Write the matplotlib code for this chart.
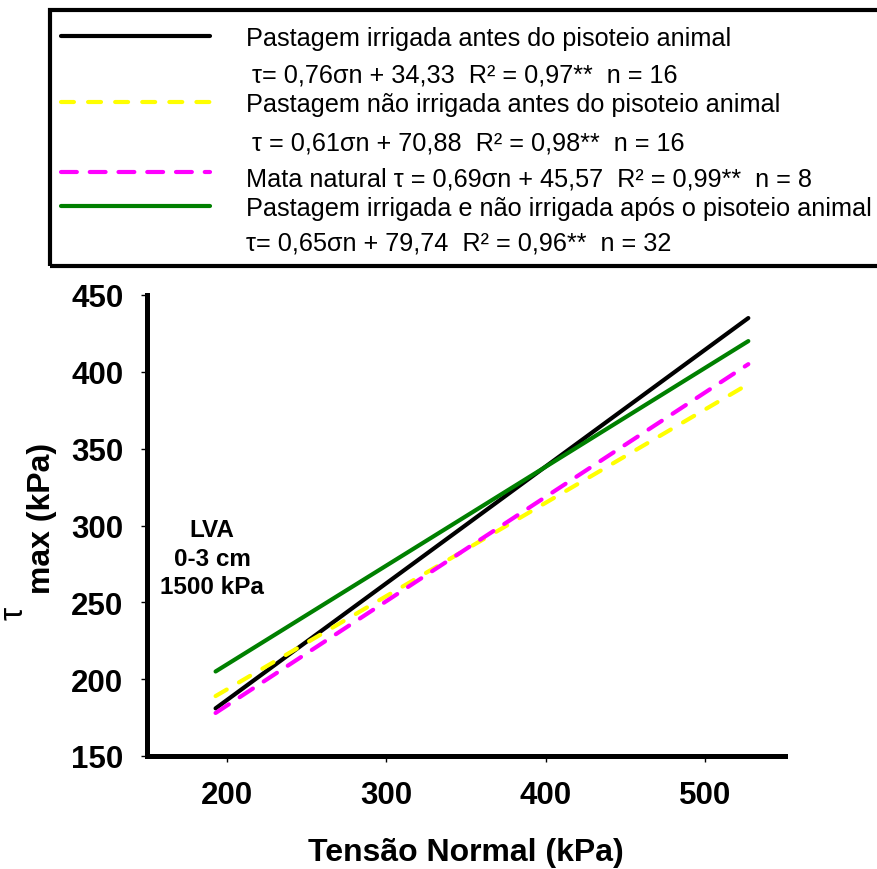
import matplotlib
matplotlib.use('Agg')
import matplotlib.pyplot as plt
from matplotlib.lines import Line2D
from matplotlib.patches import Rectangle

plt.rcParams['font.family'] = ['Liberation Sans', 'DejaVu Sans']

W, H = 878, 870

# regression lines, end points
tensao = [193, 527]
pastagem_irrigada = [181, 435]
pastagem_nao_irrigada = [189, 392]
mata_natural = [178, 405]
apos_pisoteio = [205, 420]

x_ticks = [200, 300, 400, 500]
y_ticks = [150, 200, 250, 300, 350, 400, 450]

legend_rows = [
    'Pastagem irrigada antes do pisoteio animal',
    '\u03c4= 0,76\u03c3n + 34,33  R\u00b2 = 0,97**  n = 16',
    'Pastagem n\u00e3o irrigada antes do pisoteio animal',
    '\u03c4 = 0,61\u03c3n + 70,88  R\u00b2 = 0,98**  n = 16',
    'Mata natural \u03c4 = 0,69\u03c3n + 45,57  R\u00b2 = 0,99**  n = 8',
    'Pastagem irrigada e n\u00e3o irrigada ap\u00f3s o pisoteio animal',
    '\u03c4= 0,65\u03c3n + 79,74  R\u00b2 = 0,96**  n = 32',
]
row_base = [46, 83, 112, 150, 186, 216, 251]
row_x = [246, 252, 246, 252, 246, 246, 246]

styles = [
    dict(color='black', ls='-'),
    dict(color='#ffff00', dashes=(3.1, 3.4)),
    dict(color='#ff00ff', dashes=(3.8, 3.1)),
    dict(color='#008000', ls='-'),
]
handle_y = [37, 103, 173, 207]


def fx(px):
    return px / W


def fy(py):
    return 1 - py / H


fig = plt.figure(figsize=(W / 100, H / 100), dpi=100)

ax = fig.add_axes([fx(147), fy(757), (785 - 147) / W, (757 - 296) / H])
series = [pastagem_irrigada, pastagem_nao_irrigada, mata_natural, apos_pisoteio]
for ys, st in zip(series, styles):
    ax.plot(tensao, ys, lw=3, solid_capstyle='round', dash_capstyle='round', **st)

ax.set_xlim(150, 550)
ax.set_ylim(150, 450)
ax.set_xticks(x_ticks)
ax.set_yticks(y_ticks)
for s in ['top', 'right']:
    ax.spines[s].set_visible(False)
for s in ['left', 'bottom']:
    ax.spines[s].set_linewidth(3.6)
ax.tick_params(direction='out', length=4, width=1, pad=13, labelsize=22.5)
for lab in ax.get_xticklabels() + ax.get_yticklabels():
    lab.set_fontweight('bold')

fig.text(fx(466), fy(853), 'Tens\u00e3o Normal (kPa)', fontsize=23, fontweight='bold',
         ha='center', va='center')
fig.text(fx(50), fy(518), 'max (kPa)', fontsize=23, fontweight='bold', rotation=90,
         rotation_mode='anchor', ha='center', va='baseline')
fig.text(fx(23), fy(613), '\u03c4', fontsize=24, rotation=90,
         rotation_mode='anchor', ha='center', va='baseline')

for txt, b in zip(['LVA', '0-3 cm', '1500 kPa'], [537, 566, 594]):
    fig.text(fx(212), fy(b), txt, fontsize=17.5, fontweight='bold', ha='center', va='baseline')

# legend box
fig.patches.append(Rectangle((fx(50), fy(267)), fx(900 - 50), (267 - 11) / H,
                             transform=fig.transFigure, fill=False, lw=3,
                             edgecolor='black', clip_on=False))
for hy, st in zip(handle_y, styles):
    fig.lines.append(Line2D([fx(61), fx(210)], [fy(hy), fy(hy)], transform=fig.transFigure,
                            lw=3, solid_capstyle='round', dash_capstyle='round', **st))
for txt, b, x0 in zip(legend_rows, row_base, row_x):
    fig.text(fx(x0), fy(b), txt, fontsize=18.2, ha='left', va='baseline')

fig.savefig('out.png', dpi=100)
